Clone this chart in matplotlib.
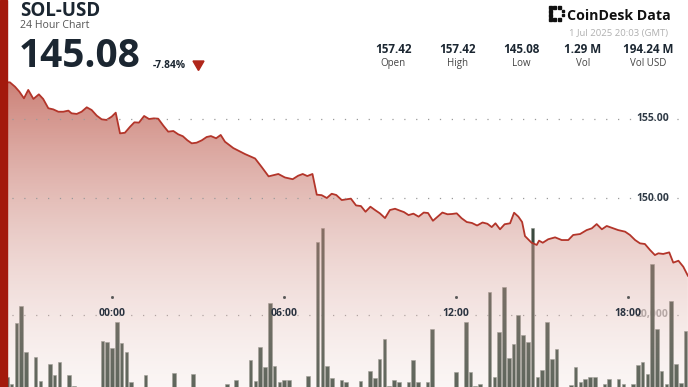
import numpy as np
import matplotlib
matplotlib.use('Agg')
import matplotlib.pyplot as plt
from matplotlib.patches import Polygon, Rectangle

plt.rcParams['font.family'] = ['Open Sans', 'DejaVu Sans']

# header
symbol = 'SOL-USD'
subtitle = '24 Hour Chart'
last_price = '145.08'
change = '-7.84%'
stamp = '1 Jul 2025 20:03 (GMT)'
stat_labels = ['Open', 'High', 'Low', 'Vol', 'Vol USD']
stat_values = ['157.42', '157.42', '145.08', '1.29 M', '194.24 M']

# price, hours from 00:00 on 1 Jul (negative = 30 Jun)
price_hours = [
    -3.95, -3.65, -3.56, -3.38, -3.23, -3.07, -2.92, -2.74, -2.55, -2.40,
    -2.22, -2.05, -1.87, -1.70, -1.52, -1.41, -1.23, -1.06, -0.88, -0.71,
    -0.53, -0.36, -0.19, -0.01, 0.13, 0.28, 0.45, 0.63, 0.78, 0.94,
    1.12, 1.29, 1.46, 1.61, 1.79, 1.96, 2.14, 2.31, 2.47, 2.63,
    2.78, 2.95, 3.13, 3.30, 3.45, 3.63, 3.79, 3.94, 4.09, 4.23,
    4.36, 4.64, 4.99, 5.22, 5.46, 5.80, 6.03, 6.30, 6.49, 6.65,
    6.81, 6.99, 7.14, 7.31, 7.49, 7.66, 7.82, 8.01, 8.18, 8.33,
    8.51, 8.68, 8.84, 9.01, 9.17, 9.34, 9.52, 9.69, 9.87, 10.04,
    10.18, 10.34, 10.51, 10.69, 10.87, 11.02, 11.19, 11.38, 11.52, 11.70,
    11.86, 12.02, 12.19, 12.37, 12.55, 12.73, 12.92, 13.09, 13.24, 13.37,
    13.53, 13.69, 13.88, 14.02, 14.17, 14.30, 14.40, 14.63, 14.81, 14.89,
    15.02, 15.21, 15.45, 15.68, 15.91, 16.08, 16.32, 16.55, 16.73, 16.90,
    17.08, 17.25, 17.48, 17.65, 17.89, 18.06, 18.24, 18.41, 18.58, 18.76,
    18.93, 19.05, 19.22, 19.43, 19.57, 19.75, 19.92, 20.08,
]
price_values = [
    157.42, 157.32, 157.32, 157.04, 156.73, 156.31, 156.84, 156.27, 156.56, 156.27,
    155.68, 155.61, 155.46, 155.46, 155.53, 155.36, 155.32, 155.46, 155.74, 155.57,
    155.21, 154.98, 154.94, 155.15, 155.40, 154.09, 154.13, 154.51, 154.79, 154.77,
    155.19, 155.00, 155.04, 155.02, 154.58, 154.20, 154.24, 154.03, 153.91, 153.65,
    153.46, 153.50, 153.65, 153.86, 153.92, 153.78, 153.99, 153.56, 153.35, 153.16,
    153.04, 152.78, 152.50, 151.96, 151.37, 151.52, 151.30, 151.19, 151.41, 151.52,
    151.39, 151.52, 150.21, 150.18, 150.00, 150.27, 150.19, 149.87, 149.92, 149.96,
    149.53, 149.49, 149.13, 149.45, 149.24, 149.03, 148.73, 149.24, 149.32, 149.20,
    149.11, 148.92, 149.01, 148.82, 149.08, 149.05, 148.56, 148.86, 149.08, 148.97,
    148.99, 149.03, 148.72, 148.48, 148.42, 148.26, 148.45, 148.37, 148.16, 148.40,
    148.02, 148.34, 148.40, 149.07, 148.82, 148.48, 147.59, 147.17, 147.03, 147.30,
    147.17, 147.39, 147.51, 147.34, 147.34, 147.66, 147.72, 147.97, 148.08, 148.35,
    148.02, 148.23, 148.08, 147.97, 147.87, 147.66, 147.34, 147.13, 147.09, 146.71,
    146.39, 146.50, 146.46, 146.56, 145.91, 146.03, 145.65, 145.08,
]

# volume per 10 minutes (thousands), first bar at 20:00 on 30 Jun
vol_start_hour = -4.0
volume_k = [
    0, 0, 2.9, 0.8, 17.9, 22.6,        # 20h
    9.8, 0, 8.4, 1.7, 0, 6.3,          # 21h
    3.3, 6.9, 0, 3.4, 0.3, 0,          # 22h
    0, 0, 0, 0, 12.8, 12.6,            # 23h
    10.9, 18.1, 12.2, 9.6, 1.3, 0,     # 00h
    0, 3.3, 0, 0, 0, 0,                # 01h
    0, 3.8, 0, 0, 0, 3.6,              # 02h
    0, 0, 0, 0, 0, 0,                  # 03h
    0.8, 0, 1.9, 0, 0, 7.5,            # 04h
    1.7, 11.2, 5.5, 23.3, 5.8, 1.5,    # 05h
    1.9, 1.9, 0, 0, 0, 3.1,            # 06h
    0, 40.4, 44.1, 5.8, 2.4, 0,        # 07h
    1.9, 1.5, 0, 0, 1.7, 0,            # 08h
    4.5, 2.4, 7.7, 13.3, 0.3, 2.0,     # 09h
    1.3, 0, 1.3, 7.6, 1.5, 0,          # 10h
    1.5, 16.1, 0, 0, 0, 0,             # 11h
    4.2, 0, 18.1, 4.2, 0.4, 0.8,       # 12h
    0, 26.4, 2.9, 15.2, 27.8, 8.0,     # 13h
    11.9, 19.9, 14.5, 12.6, 44.1, 2.9, # 14h
    4.7, 18.0, 7.8, 10.6, 0, 0,        # 15h
    0.5, 5.5, 1.4, 2.3, 2.7, 2.9,      # 16h
    0, 0.9, 2.3, 0, 2.3, 0.8,          # 17h
    0, 0.9, 6.2, 6.9, 3.6, 34.1,       # 18h
    16.1, 4.5, 0.9, 24.0, 6.3, 1.1,    # 19h
    15.6,                              # 20h
]

time_ticks = [0, 6, 12, 18]
time_labels = ['00:00', '06:00', '12:00', '18:00']
price_ticks = [150, 155]
vol_ticks = [20000]

W, H = 688, 387
X_LIM = (-3.905, 20.084)
P_LIM = (138.04, 162.53)
V_LIM = (0, 107500)


def fx(x):
    return x / W


def fy(y):
    return 1 - y / H


def main():
    fig = plt.figure(figsize=(W / 100, H / 100), dpi=100)
    axv = fig.add_axes([0, 0, 1, 1])
    ax = axv.twinx()
    axv.set_axis_off()
    ax.set_axis_off()

    # volume bars (under the price area)
    hours = vol_start_hour + np.arange(len(volume_k)) / 6
    for v in vol_ticks:
        axv.axhline(v, color='#9a9a9a', lw=0.9, ls=(0, (1, 8.5)), zorder=1)
        axv.text(19.42, v, f'{v:,}', ha='right', va='center', fontsize=7.5,
                 fontweight='bold', color='#a0a0a0', zorder=2)
    axv.bar(hours, np.array(volume_k) * 1000, width=0.75 / 6, color='#3b4a3f',
            edgecolor='#8c918a', linewidth=0.4, zorder=3)
    axv.set_xlim(*X_LIM)
    axv.set_ylim(*V_LIM)

    # gradient area under the price line
    n = 256
    t = np.clip(np.linspace(0, 1, n) / 0.79, 0, 1)[:, None]
    top = np.array([188, 88, 75, 0.75 * 255]) / 255
    bot = np.array([236, 212, 207, 0.21 * 255]) / 255
    grad = (bot + (top - bot) * t)[:, None, :]
    im = ax.imshow(grad, extent=[X_LIM[0], X_LIM[1], P_LIM[0], P_LIM[1]],
                   origin='lower', aspect='auto', zorder=1)
    verts = list(zip(price_hours, price_values))
    verts += [(price_hours[-1], P_LIM[0]), (price_hours[0], P_LIM[0])]
    area = Polygon(verts, closed=True, facecolor='none', edgecolor='none',
                   transform=ax.transData)
    ax.add_patch(area)
    im.set_clip_path(area)
    ax.plot(price_hours, price_values, color='#b3352a', lw=1.3, zorder=4)

    for v in price_ticks:
        ax.axhline(v, color='#9a9a9a', lw=0.9, ls=(0, (1, 8.5)), zorder=5)
        ax.text(19.42, v, f'{v:.2f}', ha='right', va='center', fontsize=7.5,
                fontweight='bold', color='#2f3a46', zorder=6)

    xt = ax.get_xaxis_transform()
    for h, lab in zip(time_ticks, time_labels):
        ax.plot([h], [0.2326], 's', ms=1, color='#555555', transform=xt, zorder=6)
        ax.text(h, 0.191, lab, ha='center', va='center', fontsize=7.5,
                fontweight='bold', color='#2a3340', transform=xt, zorder=6)
    ax.set_xlim(*X_LIM)
    ax.set_ylim(*P_LIM)

    # left accent bar
    fig.add_artist(Rectangle((0, 0), fx(7), 1, transform=fig.transFigure,
                             color='#a3190c', zorder=10))

    # header
    dark = '#1b2631'
    fig.text(fx(20.5), fy(16), symbol, fontsize=13.5, fontweight='bold', color=dark)
    fig.text(fx(20.5), fy(28.3), subtitle, fontsize=7.6, color='#555555')
    fig.text(fx(19), fy(67), last_price, fontsize=28, fontweight='bold', color=dark)
    fig.text(fx(153), fy(68.3), change, fontsize=7.4, fontweight='bold', color=dark)
    fig.add_artist(Polygon([(fx(193), fy(61)), (fx(204), fy(61)), (fx(198.5), fy(70.5))],
                           closed=True, color='#b0261a', transform=fig.transFigure))

    # logo
    blocks = [(0, 0), (1, 0), (2, 0), (0, 1), (0, 2), (0, 3), (1, 3), (2, 3)]
    for c, r in blocks:
        fig.add_artist(Rectangle((fx(548.5 + c * 4.5), fy(9 + r * 4)), fx(3), fx(3) * W / H,
                                 transform=fig.transFigure, color='#111111'))
    for r in (1, 2):
        fig.add_artist(Rectangle((fx(562), fy(8 + r * 4)), fx(1.6), fx(1.6) * W / H,
                                 transform=fig.transFigure, color='#111111'))
    fig.text(fx(567), fy(19.5), 'CoinDesk Data', fontsize=10.2, fontweight='bold',
             color='#111111')
    fig.text(fx(668), fy(36), stamp, fontsize=6.8, color='#b0b0b0', ha='right')

    for cx, val, lab in zip([393, 457, 521, 583, 648], stat_values, stat_labels):
        fig.text(fx(cx), fy(53), val, fontsize=8.4, fontweight='bold', color=dark, ha='center')
        fig.text(fx(cx), fy(66), lab, fontsize=7, color='#444444', ha='center')

    fig.savefig('out.png', dpi=100)


if __name__ == '__main__':
    main()
